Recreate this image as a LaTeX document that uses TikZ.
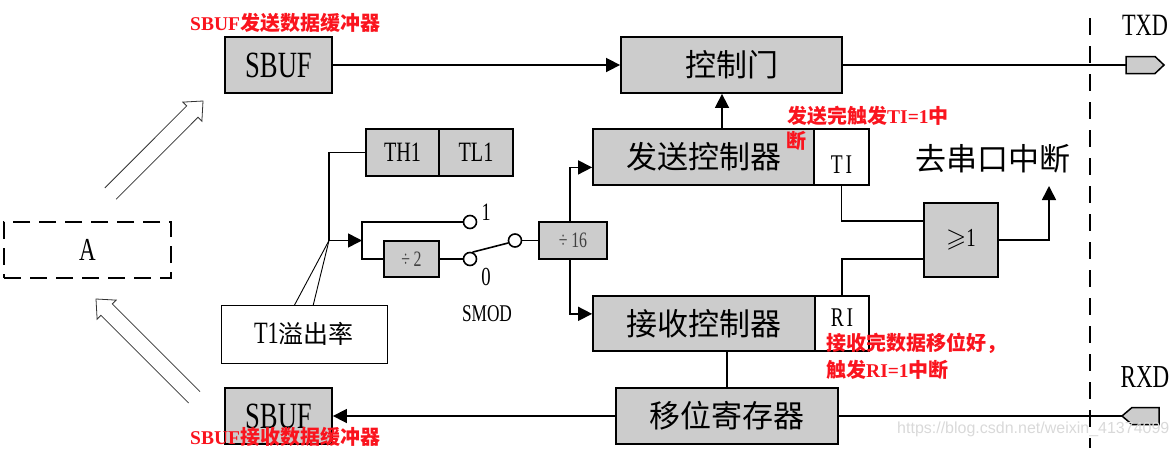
\documentclass[tikz,border=0pt]{standalone}
\usepackage{fontspec}
\usepackage{amssymb}
\setmainfont{Liberation Serif}
\newfontfamily\cond{Liberation Serif}[FakeStretch=0.72]
\newfontfamily\cjk{Noto Sans CJK SC}
\newfontfamily\wmfont{Liberation Sans}
\usetikzlibrary{arrows.meta,calc}
\definecolor{boxgray}{RGB}{204,204,204}
\definecolor{lblred}{RGB}{250,20,30}
\newcommand\setfs[1]{\fontsize{#1}{#1}\selectfont}
\newcommand\zh[1]{{\cjk\setfs{20}#1}}
\begin{document}
\begin{tikzpicture}[x=1pt,y=-1pt,
  blk/.style={draw, line width=1.8pt, fill=boxgray, inner sep=0pt},
  wbox/.style={draw, line width=1.8pt, fill=white, inner sep=0pt},
  wire/.style={line width=1.6pt},
  arr/.style={line width=1.6pt, -{Triangle[length=14pt,width=14pt]}},
  pin/.style={circle, draw, line width=1.6pt, fill=white, minimum size=13pt, inner sep=0pt},
  lbl/.style={text=lblred, font=\bfseries\setfs{19.5}, inner sep=0pt},
  big/.style={font=\cjk\setfs{31}},
  hollow/.style={line width=0.8pt, draw=black!80, line join=miter}
]
\useasboundingbox (0,0) rectangle (1176,448);

% boundary dashed line
\draw[line width=1.6pt, dash pattern=on 17pt off 11pt] (1090,18) -- (1090,448);

% boxes
\node[blk, minimum width=107pt, minimum height=56pt] (sbufT) at (278.5,65) {\cond\setfs{37}SBUF};
\node[blk, minimum width=221pt, minimum height=56pt, big] (gate) at (731.5,65) {控制门};
\node[blk, minimum width=221pt, minimum height=56pt, big] (send) at (703.5,157) {发送控制器};
\node[wbox, minimum width=55pt, minimum height=56pt] (ti) at (841.5,157) {};
\node[font=\cond\setfs{27}] (tilbl) at (841.5,165) {T\hspace{3pt}I};
\node[blk, minimum width=222pt, minimum height=55pt, big] (recv) at (704,323.5) {接收控制器};
\node[wbox, minimum width=54pt, minimum height=55pt] (ri) at (842,323.5) {};
\node[font=\cond\setfs{27}] (rilbl) at (842,317.5) {R\hspace{3pt}I};
\node[blk, minimum width=222pt, minimum height=56pt, big] (shift) at (727,416) {移位寄存器};
\node[blk, minimum width=107pt, minimum height=56pt] (sbufR) at (278.5,416) {\cond\setfs{37}SBUF};
\node[blk, minimum width=73pt, minimum height=47pt] (th1) at (402.5,152.5) {\cond\setfs{28}TH1};
\node[blk, minimum width=74pt, minimum height=47pt] (tl1) at (476,152.5) {\cond\setfs{28}TL1};
\node[blk, minimum width=55pt, minimum height=36pt, text=black!75] (div2) at (411.5,259) {\cond\setfs{22}÷\,2};
\node[blk, minimum width=68pt, minimum height=37pt, text=black!75] (div16) at (573,240.5) {\cond\setfs{22}÷\,16};
\node[blk, minimum width=74pt, minimum height=74pt] (orgate) at (961,240) {\setfs{26}$\geqslant$\cond 1};
\node[big] (intlbl) at (993,159) {去串口中断};
\node[draw, line width=2pt, dash pattern=on 17pt off 9pt, minimum width=167pt, minimum height=56pt] (a) at (87.5,250) {\cond\setfs{32}A};

% switch
\node[pin] (c1) at (470,222) {};
\node[pin] (c0) at (470,259) {};
\node[pin] (cs) at (515,240.5) {};
\node[font=\cond\setfs{25}] (l1) at (486,212) {1};
\node[font=\cond\setfs{26}] (l0) at (486,277) {0};
\node[font=\cond\setfs{24}] (smod) at (487,314) {SMOD};

% pins
\draw[line width=1.5pt, fill=boxgray] (1126,56.5) -- (1155,56.5) -- (1164,65) -- (1155,73.5) -- (1126,73.5) -- cycle;
\coordinate (txd) at (1126,65);
\node[font=\cond\setfs{31}] (txdl) at (1145,25) {TXD};
\draw[line width=1.5pt, fill=boxgray] (1159,407.5) -- (1132,407.5) -- (1122,416) -- (1132,424.5) -- (1159,424.5) -- cycle;
\coordinate (rxd) at (1122,416);
\node[font=\cond\setfs{32}] (rxdl) at (1145,377) {RXD};

% connectors
\draw[arr] (sbufT.east) -- (gate.west);
\draw[wire] (gate.east) -- (txd);
\draw[arr] (722,0 |- send.north) -- (722,0 |- gate.south);
\coordinate (orin1) at ($(orgate.north west)!0.25!(orgate.south west)$);
\coordinate (orin2) at ($(orgate.north west)!0.75!(orgate.south west)$);
\draw[wire] (ti.south) |- (orin1);
\draw[wire] (ri.north) |- (orin2);
\coordinate (intr) at (1049,186);
\draw[arr] (orgate.east) -| (intr);
\draw[wire] (727,0 |- recv.south) -- (727,0 |- shift.north);
\draw[arr] (shift.west) -- (sbufR.east);
\draw[wire] (shift.east) -- (rxd);

\coordinate (jn) at (329,240.5);
\coordinate (sp) at (362,240.5);
\coordinate (bt) at (362,222);
\coordinate (bb) at (362,259);
\draw[wire] (th1.west) -| (jn);
\draw[arr] (jn) -- (sp);
\draw[wire] (c1.west) -- (bt) -- (bb) -- (div2.west);
\draw[wire] (div2.east) -- (c0.west);
\draw[wire] (c0.70) -- (cs.200);
\draw[wire] (cs.east) -- (div16.west);
\coordinate (sendin) at ($(send.north west)!0.68!(send.south west)$);
\coordinate (recvin) at ($(recv.north west)!0.33!(recv.south west)$);
\draw[arr] (570,0 |- div16.north) |- (sendin);
\draw[arr] (570,0 |- div16.south) |- (recvin);

% T1 callout
\draw[line width=0.9pt] (jn) -- (294,306);
\draw[line width=0.9pt] (jn) -- (313,306);
\node[draw, line width=0.9pt, fill=white, minimum width=166pt, minimum height=58pt, inner sep=0pt] (t1) at (304,334) {\cond\setfs{31}T1{\cjk\setfs{25}溢出率}};

% hollow arrows
\draw[hollow] (104.8,188.0) -- (186.7,105.9) -- (182.9,102.1) -- (203,101) -- (201.9,121.1) -- (198.0,117.3) -- (116.1,199.3);
\draw[hollow] (200,391.6) -- (112.3,303.9) -- (116.1,300.1) -- (96,299) -- (97.1,319.1) -- (100.9,315.3) -- (188.6,403);

% red annotations
\node[lbl, anchor=west] (rt1) at (190,23) {SBUF\zh{发送数据缓冲器}};
\node[lbl, anchor=west] (rt2) at (787,116) {\zh{发送完触发}TI=1\zh{中}};
\node[lbl] (rt3) at (796,141) {\zh{断}};
\node[lbl, anchor=west] (rt4) at (826,343) {\zh{接收完数据移位好，}};
\node[lbl, anchor=west] (rt5) at (826,370) {\zh{触发}RI=1\zh{中断}};
\node[lbl, anchor=west] (rt6) at (190,437) {SBUF\zh{接收数据缓冲器}};

% watermark
\node[anchor=west, text=gray!30, font=\wmfont\setfs{16}, inner sep=0pt] (wm) at (897,429) {https://blog.csdn.net/weixin\_41374099};
\end{tikzpicture}
\end{document}
